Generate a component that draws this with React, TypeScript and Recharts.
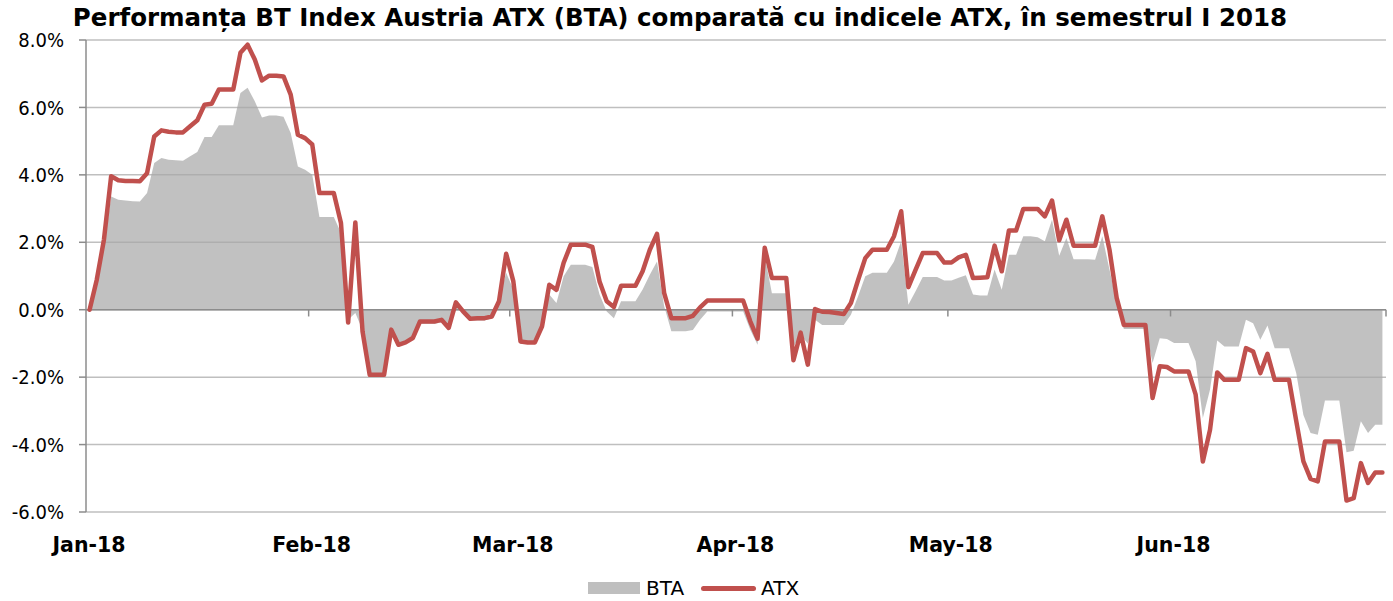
import React from 'react';
import {
  ComposedChart,
  Area,
  Line,
  XAxis,
  YAxis,
  CartesianGrid,
  ReferenceLine,
} from 'recharts';

// Daily observations from 1 Jan 2018 (day 0) to 30 Jun 2018 (day 180)
const btaValues: number[] = [
  0, 0.70, 1.85, 3.36, 3.26, 3.24, 3.22, 3.21, 3.46, 4.35,
  4.50, 4.45, 4.43, 4.42, 4.55, 4.68, 5.12, 5.12, 5.47, 5.47,
  5.47, 6.43, 6.58, 6.18, 5.70, 5.76, 5.76, 5.72, 5.24, 4.25,
  4.15, 4.00, 2.75, 2.75, 2.75, 2.28, -0.30, -0.10, -0.60, -1.93,
  -1.93, -1.93, -0.60, -1.00, -0.95, -0.85, -0.42, -0.42, -0.42, -0.38,
  -0.58, 0.15, -0.10, -0.32, -0.32, -0.32, -0.25, 0.30, 1.10, 0.60,
  -1.02, -1.02, -1.02, -0.55, 0.45, 0.20, 0.99, 1.33, 1.33, 1.33,
  1.27, 0.45, -0.05, -0.25, 0.25, 0.25, 0.25, 0.60, 1.04, 1.43,
  0.10, -0.64, -0.64, -0.64, -0.60, -0.30, -0.05, -0.05, -0.05, -0.05,
  -0.05, -0.05, -0.60, -1.04, 1.60, 0.49, 0.49, 0.49, -1.10, -0.75,
  -1.00, -0.30, -0.45, -0.45, -0.45, -0.45, -0.15, 0.40, 0.99, 1.10,
  1.10, 1.10, 1.43, 2.03, 0.15, 0.55, 0.97, 0.97, 0.97, 0.87,
  0.87, 0.95, 1.02, 0.45, 0.42, 0.42, 1.19, 0.59, 1.63, 1.63,
  2.18, 2.18, 2.15, 2.03, 2.67, 1.60, 2.13, 1.50, 1.50, 1.50,
  1.48, 2.18, 1.19, 0.20, -0.57, -0.57, -0.57, -0.57, -1.58, -0.85,
  -0.87, -0.99, -0.99, -0.99, -1.53, -3.21, -2.37, -0.91, -1.09, -1.09,
  -1.09, -0.30, -0.40, -0.89, -0.47, -1.14, -1.14, -1.14, -1.88, -3.12,
  -3.66, -3.71, -2.69, -2.69, -2.69, -4.23, -4.18, -3.31, -3.66, -3.41,
  -3.41,
];

const atxValues: number[] = [
  0, 0.89, 2.08, 3.96, 3.84, 3.82, 3.82, 3.81, 4.05, 5.14,
  5.32, 5.28, 5.26, 5.26, 5.44, 5.62, 6.08, 6.11, 6.53, 6.53,
  6.53, 7.62, 7.86, 7.42, 6.80, 6.94, 6.94, 6.92, 6.38, 5.19,
  5.09, 4.90, 3.46, 3.46, 3.46, 2.57, -0.38, 2.59, -0.64, -1.93,
  -1.93, -1.93, -0.59, -1.04, -0.97, -0.84, -0.35, -0.35, -0.35, -0.30,
  -0.54, 0.22, -0.05, -0.27, -0.25, -0.25, -0.20, 0.25, 1.66, 0.84,
  -0.94, -0.97, -0.97, -0.49, 0.74, 0.59, 1.39, 1.93, 1.93, 1.93,
  1.86, 0.84, 0.25, 0.08, 0.71, 0.71, 0.71, 1.14, 1.78, 2.25,
  0.49, -0.25, -0.25, -0.25, -0.18, 0.07, 0.27, 0.27, 0.27, 0.27,
  0.27, 0.27, -0.35, -0.86, 1.84, 0.94, 0.94, 0.94, -1.50, -0.68,
  -1.63, 0.02, -0.06, -0.07, -0.10, -0.13, 0.20, 0.88, 1.53, 1.78,
  1.78, 1.78, 2.18, 2.92, 0.67, 1.18, 1.68, 1.68, 1.68, 1.40,
  1.40, 1.55, 1.63, 0.94, 0.95, 0.96, 1.90, 1.14, 2.35, 2.35,
  2.99, 2.99, 2.99, 2.77, 3.24, 2.06, 2.67, 1.90, 1.90, 1.90,
  1.90, 2.77, 1.78, 0.35, -0.45, -0.45, -0.45, -0.45, -2.62, -1.68,
  -1.70, -1.83, -1.83, -1.83, -2.52, -4.50, -3.56, -1.86, -2.08, -2.08,
  -2.08, -1.14, -1.24, -1.88, -1.31, -2.08, -2.08, -2.08, -3.30, -4.50,
  -5.02, -5.09, -3.91, -3.91, -3.91, -5.66, -5.59, -4.55, -5.14, -4.83,
  -4.83,
];

// Month boundaries (day index of the first of each month) and their labels
const monthStartDays: number[] = [0, 31, 59, 90, 120, 151, 181];
const monthLabels: string[] = ['Jan-18', 'Feb-18', 'Mar-18', 'Apr-18', 'May-18', 'Jun-18', ''];

const yTicks: number[] = [-6, -4, -2, 0, 2, 4, 6, 8];

const TITLE = 'Performanța BT Index Austria ATX (BTA) comparată cu indicele ATX, în semestrul I 2018';

const data = atxValues.map((v, i) => ({ day: i, ATX: v, BTA: btaValues[i] }));
const xTicks = monthStartDays.map((d) => d - 0.5);
const labelFor = (t: number) => {
  const idx = xTicks.indexOf(t);
  return idx >= 0 ? monthLabels[idx] : '';
};

const FONT_C = "'DejaVu Sans Condensed', 'DejaVu Sans', sans-serif";
const FONT = "'DejaVu Sans', sans-serif";
const RED = '#C0504D';
const AXIS_GRAY = '#8C8C8C';

const XTick = (props: any) => {
  const { x, y, payload } = props;
  const label = labelFor(payload.value);
  if (!label) return null;
  return (
    <text
      x={x + 3}
      y={y}
      dy="0.71em"
      textAnchor="middle"
      fontFamily={FONT}
      fontWeight="bold"
      fontSize={20.5}
      fill="#000"
    >
      {label}
    </text>
  );
};

export default function App() {
  return (
    <div
      style={{
        position: 'absolute',
        left: 0,
        top: 0,
        width: 1393,
        height: 601,
        background: '#fff',
        fontFamily: FONT,
      }}
    >
      <div
        style={{
          position: 'absolute',
          left: 0,
          top: 3,
          width: 1360,
          textAlign: 'center',
          fontSize: 24.5,
          fontWeight: 'bold',
          color: '#000',
          whiteSpace: 'nowrap',
          lineHeight: '30px',
        }}
      >
        {TITLE}
      </div>
      <ComposedChart
        width={1393}
        height={601}
        data={data}
        margin={{ top: 40, right: 7, bottom: 49, left: 0 }}
      >
        <CartesianGrid
          vertical={false}
          horizontal={true}
          stroke="#BFBFBF"
          strokeWidth={1.5}
        />
        <XAxis
          dataKey="day"
          type="number"
          domain={[-0.5, 180.5]}
          ticks={xTicks}
          interval={0}
          axisLine={false}
          tickLine={false}
          tickSize={0}
          tickMargin={25}
          height={40}
          tick={<XTick />}
        />
        <YAxis
          type="number"
          domain={[-6, 8]}
          ticks={yTicks}
          interval={0}
          width={86}
          axisLine={{ stroke: AXIS_GRAY, strokeWidth: 1.5 }}
          tickLine={{ stroke: AXIS_GRAY, strokeWidth: 1.5 }}
          tickSize={7}
          tickMargin={15}
          tickFormatter={(v: number) => `${v.toFixed(1)}%`}
          tick={{ fontFamily: FONT_C, fontSize: 20, fill: '#000' }}
        />
        <Area
          dataKey="BTA"
          type="linear"
          baseValue={0}
          stroke="none"
          fill="#A6A6A6"
          fillOpacity={0.7}
          isAnimationActive={false}
          dot={false}
          activeDot={false}
        />
        <ReferenceLine y={0} stroke={AXIS_GRAY} strokeWidth={1.5} />
        {xTicks.slice(1).map((t) => (
          <ReferenceLine
            key={t}
            segment={[
              { x: t, y: 0 },
              { x: t, y: -0.2 },
            ]}
            stroke={AXIS_GRAY}
            strokeWidth={1.5}
          />
        ))}
        <Line
          dataKey="ATX"
          type="linear"
          stroke={RED}
          strokeWidth={4.5}
          strokeLinejoin="round"
          strokeLinecap="round"
          dot={false}
          activeDot={false}
          isAnimationActive={false}
        />
      </ComposedChart>
      <div
        style={{
          position: 'absolute',
          left: 588,
          top: 574,
          height: 28,
          display: 'flex',
          alignItems: 'center',
          fontSize: 20,
          fontFamily: FONT,
          color: '#000',
        }}
      >
        <span style={{ display: 'inline-block', width: 52, height: 12, background: '#BFBFBF' }} />
        <span style={{ marginLeft: 6 }}>BTA</span>
        <span
          style={{
            display: 'inline-block',
            width: 55,
            height: 5,
            borderRadius: 3,
            background: RED,
            marginLeft: 17,
          }}
        />
        <span style={{ marginLeft: 5 }}>ATX</span>
      </div>
    </div>
  );
}
